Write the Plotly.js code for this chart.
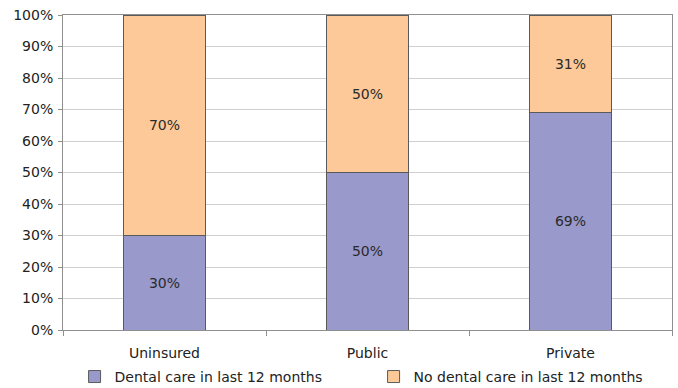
<!DOCTYPE html>
<html>
<head>
<meta charset="utf-8">
<script src="https://cdn.plot.ly/plotly-3.0.1.min.js"></script>
<style>
  html, body { margin: 0; padding: 0; background: #fff; }
  #chart { width: 678px; height: 388px; }
</style>
</head>
<body>
<div id="chart"></div>
<script>
// Share of people with / without a dental visit, by insurance type (%)
const categories = ["Uninsured", "Public", "Private"];
const dentalCare = [30, 50, 69];
const noDentalCare = [70, 50, 31];
const yTickValues = [0, 10, 20, 30, 40, 50, 60, 70, 80, 90, 100];
const yTickLabels = yTickValues.map(v => v + "%");

const FONT = "DejaVu Sans, Verdana, sans-serif";
const barLine = { color: "#5a5a5a", width: 1 };
const labelFont = { family: FONT, size: 14, color: "#2a2a2a" };

const traces = [
  {
    type: "bar",
    name: "Dental care in last 12 months",
    x: categories,
    y: dentalCare,
    text: dentalCare.map(v => v + "%"),
    texttemplate: "%{text}",
    marker: { color: "#9999cc", line: barLine },
    textposition: "inside",
    insidetextanchor: "middle",
    textfont: labelFont,
    hoverinfo: "skip",
    legend: "legend"
  },
  {
    type: "bar",
    name: "No dental care in last 12 months",
    x: categories,
    y: noDentalCare,
    text: noDentalCare.map(v => v + "%"),
    texttemplate: "%{text}",
    marker: { color: "#fdc998", line: barLine },
    textposition: "inside",
    insidetextanchor: "middle",
    textfont: labelFont,
    hoverinfo: "skip",
    legend: "legend2"
  }
];

// one legend per series so each entry sits in its own column below the axis
const legendBase = {
  orientation: "h",
  xanchor: "left",
  yanchor: "middle",
  y: -0.149,
  bgcolor: "rgba(0,0,0,0)",
  font: { family: FONT, size: 14, color: "#222" },
  itemclick: false
};

const layout = {
  width: 678,
  height: 388,
  margin: { l: 63, r: 6, t: 15, b: 58, autoexpand: false },
  paper_bgcolor: "#fff",
  plot_bgcolor: "#fff",
  barmode: "stack",
  bargap: 0.595,
  font: { family: FONT, size: 14, color: "#222" },
  showlegend: true,
  legend: Object.assign({}, legendBase, { x: 0.019 }),
  legend2: Object.assign({}, legendBase, { x: 0.51 }),
  xaxis: {
    type: "category",
    showgrid: false,
    showline: true,
    linecolor: "#8f8f8f",
    linewidth: 1,
    mirror: true,
    ticks: "outside",
    tickson: "boundaries",
    ticklen: 5,
    tickcolor: "#8f8f8f",
    ticklabelstandoff: 10,
    tickfont: { family: FONT, size: 14, color: "#222" },
    fixedrange: true
  },
  yaxis: {
    range: [0, 100],
    tickvals: yTickValues,
    ticktext: yTickLabels,
    showgrid: true,
    gridcolor: "#cfcfcf",
    gridwidth: 1,
    showline: true,
    linecolor: "#8f8f8f",
    linewidth: 1,
    mirror: true,
    ticks: "outside",
    ticklen: 4,
    tickcolor: "#8f8f8f",
    ticklabelstandoff: 2,
    tickfont: { family: FONT, size: 14, color: "#222" },
    zeroline: false,
    fixedrange: true
  }
};

Plotly.newPlot("chart", traces, layout, { displayModeBar: false, staticPlot: true });
</script>
</body>
</html>
